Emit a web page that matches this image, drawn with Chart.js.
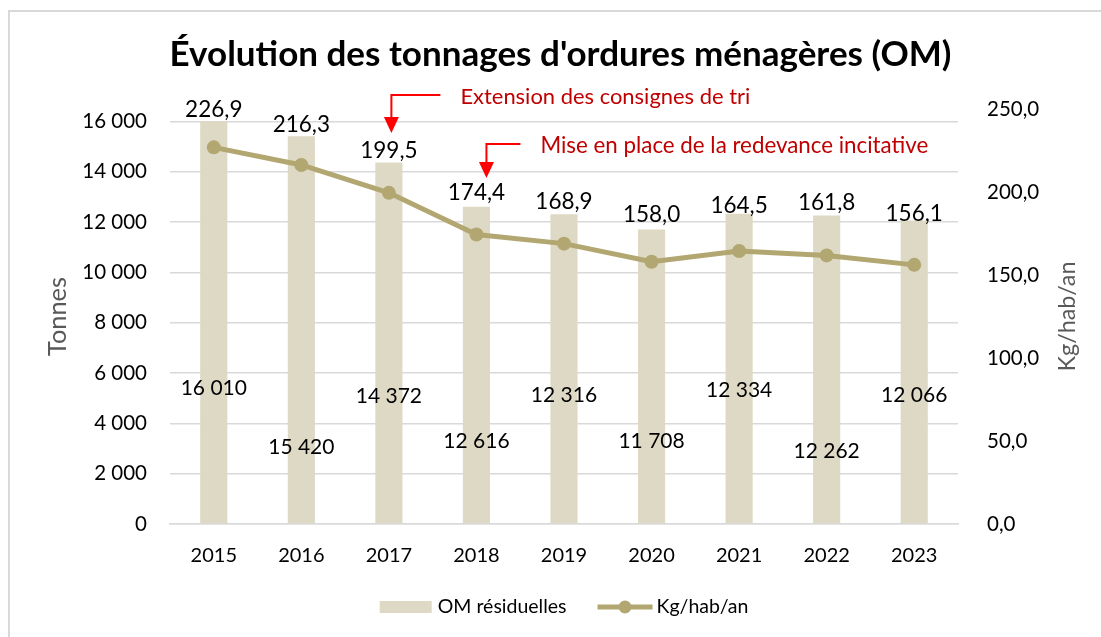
<!DOCTYPE html>
<html>
<head>
<meta charset="utf-8">
<script src="https://cdn.jsdelivr.net/npm/chart.js@4"></script>
<style>
  html, body { margin: 0; padding: 0; background: #fff; }
  #wrap { width: 1101px; height: 637px; }
</style>
</head>
<body>
<div id="wrap"><canvas id="chart" width="1101" height="637"></canvas></div>
<script>
// data
var years = ['2015', '2016', '2017', '2018', '2019', '2020', '2021', '2022', '2023'];
var tonnes = [16010, 15420, 14372, 12616, 12316, 11708, 12334, 12262, 12066];
var kgHabAn = [226.9, 216.3, 199.5, 174.4, 168.9, 158.0, 164.5, 161.8, 156.1];
var tonnesAxisMax = 16500, tonnesTickMax = 16000, tonnesStep = 2000;
var kgAxisMax = 250, kgStep = 50;

var titleText = "Évolution des tonnages d'ordures ménagères (OM)";
var notes = [
    { text: 'Extension des consignes de tri', year: '2017' },
    { text: 'Mise en place de la redevance incitative', year: '2018' }
];

// where the value labels sit (bar labels in tonnes, line labels lifted in px)
var barLabelAt = [5407, 3062, 5089, 3300, 5129, 3300, 5328, 2903, 5129];
var lineLabelLift = [38, 40, 42, 42, 42, 47, 45, 53, 51];
// arrow geometry for the notes: dx from category, corner y, tip y, arm length, text width
var noteShape = [
    { dx: 2.5, y: 95, tip: 133, arm: 49, gap: 20, width: 290 },
    { dx: 10, y: 144, tip: 178, arm: 34, gap: 20, width: 388 }
];

var FONT = 'Lato';
var barColor = '#DDD9C4';
var lineColor = '#B2A671';
var red = '#FF0000';
var darkRed = '#C00000';

var measure = document.createElement('canvas').getContext('2d');
function fitSize(text, weight, width) {
    measure.font = weight + ' 100px ' + FONT;
    return 100 * width / measure.measureText(text).width;
}

function fmtTonnes(v) {
    return String(Math.round(v)).replace(/\B(?=(\d{3})+(?!\d))/g, ' ');
}
function fmtKg(v) {
    return v.toFixed(1).replace('.', ',');
}

// title block: centred at y 55, plot starts at y 109
var titleSize = fitSize(titleText, 'bold', 782);
var titlePadTop = 55 - titleSize * 0.6;
var titlePadBottom = 109 - 55 - titleSize * 0.6;
var leftTitleSize = fitSize('Tonnes', 'normal', 79);
var rightTitleSize = fitSize('Kg/hab/an', 'normal', 110);

var frame = {
    id: 'frame',
    beforeDraw: function (chart) {
        var c = chart.ctx;
        c.save();
        c.fillStyle = '#fff';
        c.fillRect(0, 0, chart.width, chart.height);
        c.fillStyle = '#D9D9D9';
        c.fillRect(8, 10, chart.width, 2);
        c.fillRect(8, 10, 2, chart.height);
        c.restore();
    }
};

var valueLabels = {
    id: 'valueLabels',
    afterDatasetsDraw: function (chart) {
        var c = chart.ctx;
        var yl = chart.scales.y;
        c.save();
        c.textAlign = 'center';
        c.textBaseline = 'middle';
        c.fillStyle = '#000';
        c.font = '21px ' + FONT;
        chart.getDatasetMeta(0).data.forEach(function (el, i) {
            c.fillText(fmtTonnes(tonnes[i]), el.x, yl.getPixelForValue(barLabelAt[i]));
        });
        c.font = '22.5px ' + FONT;
        chart.getDatasetMeta(1).data.forEach(function (el, i) {
            c.fillText(fmtKg(kgHabAn[i]), el.x, el.y - lineLabelLift[i]);
        });
        c.restore();
    }
};

// both axis titles read bottom to top in the original
var axisTitles = {
    id: 'axisTitles',
    afterDraw: function (chart) {
        var c = chart.ctx;
        var area = chart.chartArea;
        var mid = (area.top + area.bottom) / 2;
        c.save();
        c.fillStyle = '#595959';
        c.textAlign = 'center';
        c.textBaseline = 'middle';
        [[58, 'Tonnes', leftTitleSize], [1067, 'Kg/hab/an', rightTitleSize]].forEach(function (t) {
            c.save();
            c.translate(t[0], mid);
            c.rotate(-Math.PI / 2);
            c.font = t[2] + 'px ' + FONT;
            c.fillText(t[1], 0, 0);
            c.restore();
        });
        c.restore();
    }
};

var noteArrows = {
    id: 'noteArrows',
    afterDraw: function (chart) {
        var c = chart.ctx;
        var xs = chart.scales.x;
        c.save();
        notes.forEach(function (n, i) {
            var s = noteShape[i];
            var x = xs.getPixelForValue(years.indexOf(n.year)) + s.dx;
            c.strokeStyle = red;
            c.fillStyle = red;
            c.lineWidth = 2;
            c.beginPath();
            c.moveTo(x + s.arm, s.y);
            c.lineTo(x, s.y);
            c.lineTo(x, s.tip - 14);
            c.stroke();
            c.beginPath();
            c.moveTo(x - 7.5, s.tip - 16);
            c.lineTo(x + 7.5, s.tip - 16);
            c.lineTo(x, s.tip);
            c.closePath();
            c.fill();
            c.fillStyle = darkRed;
            c.font = fitSize(n.text, 'normal', s.width) + 'px ' + FONT;
            c.textAlign = 'left';
            c.textBaseline = 'middle';
            c.fillText(n.text, x + s.arm + s.gap, s.y + 2);
        });
        c.restore();
    }
};

var bottomLegend = {
    id: 'bottomLegend',
    afterDraw: function (chart) {
        var c = chart.ctx;
        var area = chart.chartArea;
        var y = 607;
        c.save();
        c.font = '19.5px ' + FONT;
        c.textBaseline = 'middle';
        c.textAlign = 'left';
        var t1 = chart.data.datasets[0].label, t2 = chart.data.datasets[1].label;
        var w1 = c.measureText(t1).width, w2 = c.measureText(t2).width;
        var total = 52 + 6 + w1 + 31 + 55 + 4 + w2;
        var x = (area.left + area.right) / 2 - total / 2;
        c.fillStyle = barColor;
        c.fillRect(x, y - 6, 52, 12);
        x += 58;
        c.fillStyle = '#000';
        c.fillText(t1, x, y);
        x += w1 + 31;
        c.strokeStyle = lineColor;
        c.lineWidth = 5;
        c.beginPath();
        c.moveTo(x, y);
        c.lineTo(x + 55, y);
        c.stroke();
        c.fillStyle = lineColor;
        c.beginPath();
        c.arc(x + 27.5, y, 6.5, 0, Math.PI * 2);
        c.fill();
        x += 59;
        c.fillStyle = '#000';
        c.fillText(t2, x, y);
        c.restore();
    }
};

var ctx = document.getElementById('chart').getContext('2d');
var chart = new Chart(ctx, {
    type: 'bar',
    data: {
        labels: years,
        datasets: [{
            type: 'bar',
            label: 'OM résiduelles',
            data: tonnes,
            backgroundColor: barColor,
            borderWidth: 0,
            barPercentage: 0.31,
            categoryPercentage: 1,
            yAxisID: 'y',
            order: 2
        }, {
            type: 'line',
            label: 'Kg/hab/an',
            data: kgHabAn,
            borderColor: lineColor,
            backgroundColor: lineColor,
            borderWidth: 5,
            pointRadius: 7,
            pointBorderWidth: 0,
            pointBackgroundColor: lineColor,
            tension: 0,
            yAxisID: 'y1',
            order: 1
        }]
    },
    options: {
        responsive: false,
        animation: false,
        devicePixelRatio: 1,
        layout: { padding: { left: 20, right: 0, top: 0, bottom: 0 } },
        plugins: {
            legend: { display: false },
            tooltip: { enabled: false },
            title: {
                display: true,
                text: titleText,
                color: '#000',
                font: { family: FONT, weight: 'bold', size: titleSize, lineHeight: 1.2 },
                padding: { top: titlePadTop, bottom: titlePadBottom }
            }
        },
        scales: {
            x: {
                grid: { display: false, drawTicks: false },
                border: { color: '#D9D9D9', width: 1.5 },
                ticks: { color: '#000', font: { family: FONT, size: 20 }, padding: 20 },
                afterFit: function (s) { s.height = 113; }
            },
            y: {
                position: 'left',
                min: 0,
                max: tonnesAxisMax,
                grid: { color: '#D9D9D9', lineWidth: 1.5, drawTicks: false },
                border: { display: false },
                ticks: {
                    color: '#000',
                    padding: 23,
                    font: { family: FONT, size: 20.5 },
                    callback: function (v) { return fmtTonnes(v); }
                },
                afterBuildTicks: function (s) {
                    var t = [];
                    for (var v = 0; v <= tonnesTickMax; v += tonnesStep) t.push({ value: v });
                    s.ticks = t;
                },
                afterFit: function (s) { s.width = 150; }
            },
            y1: {
                position: 'right',
                min: 0,
                max: kgAxisMax,
                grid: { display: false, drawTicks: false },
                border: { display: false },
                ticks: {
                    stepSize: kgStep,
                    color: '#000',
                    padding: 29,
                    font: { family: FONT, size: 20.5 },
                    callback: function (v) { return fmtKg(v); }
                },
                afterFit: function (s) { s.width = 143; }
            }
        }
    },
    plugins: [frame, valueLabels, axisTitles, noteArrows, bottomLegend]
});
</script>
</body>
</html>
